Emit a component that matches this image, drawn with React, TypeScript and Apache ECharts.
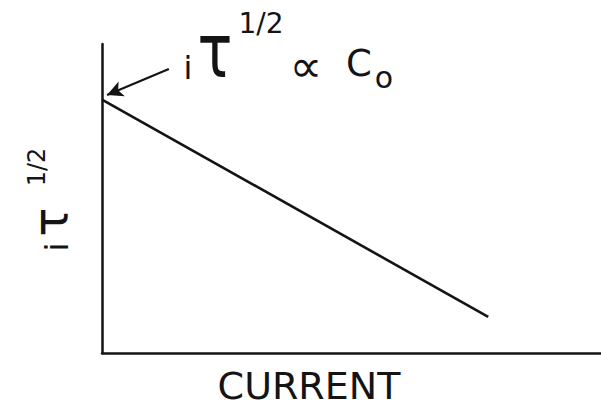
import React, { useEffect, useRef } from "react";
import * as echarts from "echarts";

// Current (x) and iτ^1/2 (y), arbitrary units
const currentValues = [0, 77.4];
const itauValues = [82, 11.7];
// Arrow pointing at the intercept on the iτ^1/2 axis
const arrowTail = [13.4, 91.9];
const arrowHead = [1, 83.5];

const xName = "CURRENT";
const yNameParts = ["i", "τ", "1/2"];
const noteParts = ["i", "τ", "1/2", "∝", "C", "o"];

const INK = "#141414";
const FONT = "DejaVu Sans, sans-serif";

export default function App() {
  const ref = useRef<HTMLDivElement>(null);

  useEffect(() => {
    if (!ref.current) return;
    const chart = echarts.init(ref.current, null, { renderer: "svg" });

    const t = (
      text: string,
      x: number,
      y: number,
      size: number,
      rotation = 0,
      scaleX = 1,
      scaleY = 1
    ) => ({
      type: "text",
      x,
      y,
      rotation,
      scaleX,
      scaleY,
      style: {
        text,
        fill: INK,
        font: `${size}px ${FONT}`,
        align: "center",
        verticalAlign: "middle",
      },
    });

    chart.setOption({
      animation: false,
      backgroundColor: "#ffffff",
      grid: { left: 102, top: 44, right: 0, bottom: 55 },
      xAxis: {
        type: "value",
        min: 0,
        max: 100,
        axisLine: { show: true, lineStyle: { color: INK, width: 2.5 } },
        axisTick: { show: false },
        axisLabel: { show: false },
        splitLine: { show: false },
      },
      yAxis: {
        type: "value",
        min: 0,
        max: 100,
        axisLine: { show: true, lineStyle: { color: INK, width: 2.5 } },
        axisTick: { show: false },
        axisLabel: { show: false },
        splitLine: { show: false },
      },
      series: [
        {
          type: "line",
          data: currentValues.map((c, i) => [c, itauValues[i]]),
          symbol: "none",
          lineStyle: { color: INK, width: 2.6 },
          markLine: {
            silent: true,
            symbol: ["none", "arrow"],
            symbolSize: [12, 16],
            label: { show: false },
            lineStyle: { color: INK, width: 2.2, type: "solid" },
            data: [[{ coord: arrowTail }, { coord: arrowHead }]],
          },
        },
      ],
      graphic: [
        // annotation: iτ^1/2 ∝ C_o
        t(noteParts[0], 188, 68, 32),
        t(noteParts[1], 215, 51, 58, 0, 1, 1.3),
        t(noteParts[2], 261, 23, 28),
        t(noteParts[3], 306, 66, 46),
        t(noteParts[4], 359, 63, 37),
        t(noteParts[5], 384, 77, 30),
        // y-axis title, rotated
        t(yNameParts[0], 57, 247, 32, Math.PI / 2),
        t(yNameParts[1], 50, 222, 48, Math.PI / 2),
        t(yNameParts[2], 37, 167, 24, Math.PI / 2),
        // x-axis title
        t(xName, 309, 386, 38),
      ],
    });

    return () => chart.dispose();
  }, []);

  return (
    <div
      ref={ref}
      style={{ position: "fixed", left: 0, top: 0, width: 601, height: 408 }}
    />
  );
}
